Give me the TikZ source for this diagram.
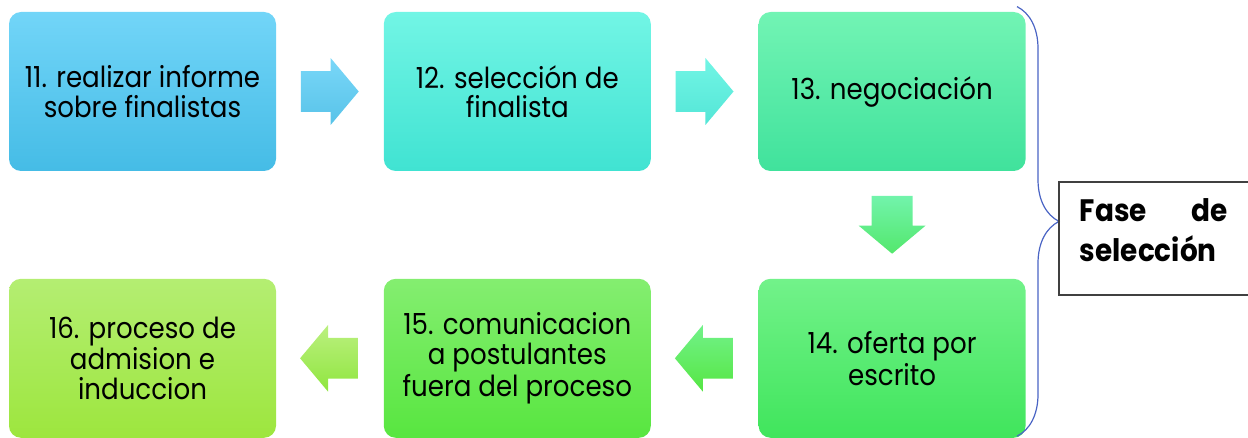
\documentclass[tikz,border=0pt]{standalone}
\usepackage{fontspec}
\setmainfont[FakeStretch=0.9]{Poppins}
\usepackage{tikz}
\usetikzlibrary{positioning,calc,shapes.arrows,decorations.pathreplacing}
\definecolor{skyTop}{HTML}{72D5F8}
\definecolor{skyBot}{HTML}{45BCE6}
\definecolor{aquaTop}{HTML}{72F5E5}
\definecolor{aquaBot}{HTML}{40E3D2}
\definecolor{mintTop}{HTML}{72F4B4}
\definecolor{mintBot}{HTML}{40E29C}
\definecolor{greenTop}{HTML}{72F28A}
\definecolor{greenBot}{HTML}{40E55C}
\definecolor{leafTop}{HTML}{84EE70}
\definecolor{leafBot}{HTML}{58E640}
\definecolor{limeTop}{HTML}{B4EE72}
\definecolor{limeBot}{HTML}{9DE63E}
\definecolor{braceblue}{HTML}{4A64C4}
\definecolor{framegray}{HTML}{404040}
\tikzset{
  stepbox/.style={rounded corners=6pt, align=center, minimum width=133.5pt,
    minimum height=79.5pt, inner sep=4pt, font=\fontsize{14.5}{14.8}\selectfont},
  skybox/.style={stepbox, top color=skyTop, bottom color=skyBot},
  aquabox/.style={stepbox, top color=aquaTop, bottom color=aquaBot},
  mintbox/.style={stepbox, top color=mintTop, bottom color=mintBot},
  greenbox/.style={stepbox, top color=greenTop, bottom color=greenBot},
  leafbox/.style={stepbox, top color=leafTop, bottom color=leafBot},
  limebox/.style={stepbox, top color=limeTop, bottom color=limeBot},
  blockarr/.style={single arrow, minimum height=28pt, minimum width=33pt,
    inner sep=10pt, single arrow head extend=6.5pt, single arrow tip angle=100},
  phasebrace/.style={draw=braceblue, line width=0.6pt,
    decorate, decoration={brace, amplitude=21pt}},
  fasebox/.style={minimum width=94.5pt, minimum height=56pt, inner sep=0pt},
  fasebdr/.style={draw=framegray, line width=0.8pt}
}

\begin{document}
\begin{tikzpicture}[node distance=53.5pt]
  \useasboundingbox (0,0) rectangle (624pt,-219pt);
  % upper row
  \node[skybox] (b11) at (71.25pt,-45.75pt) {11. realizar informe\\sobre finalistas};
  \node[aquabox, right=of b11] (b12) {12. selección de\\finalista};
  \node[mintbox, right=of b12] (b13) {13. negociación};
  % lower row, right to left
  \node[greenbox, below=of b13] (b14) {14. oferta por\\escrito};
  \node[leafbox, left=of b14] (b15) {15. comunicacion\\a postulantes\\fuera del proceso};
  \node[limebox, left=of b15] (b16) {16. proceso de\\admision e\\induccion};
  % block arrows between the steps
  \node[blockarr, anchor=tail, top color=skyTop!95!white, bottom color=skyBot!90!white]
    (a1) at ($(b11.east)+(12pt,0)$) {};
  \node[blockarr, anchor=tail, top color=aquaTop, bottom color=aquaBot!90!white]
    (a2) at ($(b12.east)+(12pt,0)$) {};
  \node[blockarr, anchor=tail, shape border rotate=270, top color=mintTop!80!greenTop, bottom color=greenBot!90!white]
    (a3) at ($(b13.south)+(0,-12pt)$) {};
  \node[blockarr, anchor=tail, shape border rotate=180, top color=greenTop, bottom color=leafBot!90!greenBot]
    (a4) at ($(b14.west)+(-12.5pt,0)$) {};
  \node[blockarr, anchor=tail, shape border rotate=180, top color=limeTop!90!white, bottom color=limeBot!80!leafBot]
    (a5) at ($(b15.west)+(-12.5pt,0)$) {};
  % brace and phase label
  \coordinate (btop) at ($(b13.north east)+(-4.5pt,2.5pt)$);
  \coordinate (bbot) at ($(b14.south east)+(-4.5pt,1pt)$);
  \coordinate (tip) at ($(btop)!0.5!(bbot)+(21pt,0)$);
  \draw[phasebrace] (btop) -- (bbot);
  \node[fasebox, anchor=west] (fase) at ($(tip)+(0,-8.5pt)$) {};
  \draw[fasebdr] (fase.north east) -- (fase.north west) -- (fase.south west) -- (fase.south east);
  \node[text width=74pt, align=left, inner sep=0pt, font=\bfseries\fontsize{15.5}{20}\selectfont]
    (fasetxt) at ($(fase.center)+(0,4pt)$) {Fase\hfill de\\selección};
\end{tikzpicture}
\end{document}
